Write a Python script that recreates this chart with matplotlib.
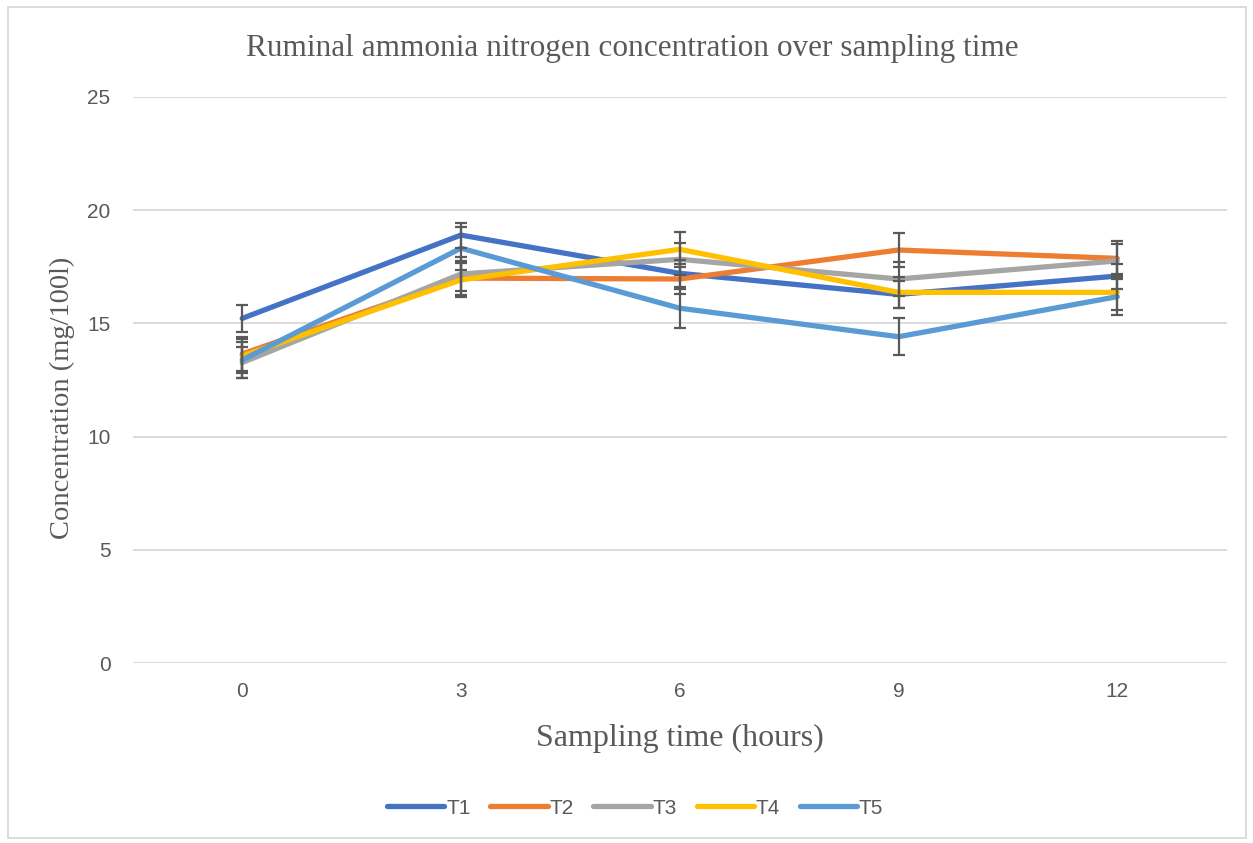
import matplotlib

matplotlib.use("Agg")
import matplotlib.pyplot as plt
from matplotlib.patches import Rectangle

# --- data ---
hours = ["0", "3", "6", "9", "12"]
series = ["T1", "T2", "T3", "T4", "T5"]
t1 = [15.22, 18.90, 17.21, 16.28, 17.09]
t2 = [13.65, 17.00, 16.96, 18.24, 17.87]
t3 = [13.27, 17.18, 17.83, 16.96, 17.76]
t4 = [13.56, 16.92, 18.27, 16.37, 16.37]
t5 = [13.38, 18.32, 15.67, 14.41, 16.18]
err1 = [0.60, 0.55, 0.60, 0.60, 0.55]
err2 = [0.75, 0.75, 0.65, 0.76, 0.76]
err3 = [0.70, 0.75, 0.70, 0.75, 0.75]
err4 = [0.75, 0.75, 0.78, 0.70, 0.80]
err5 = [0.80, 0.95, 0.86, 0.82, 0.80]

COLORS = ["#4472C4", "#ED7D31", "#A5A5A5", "#FFC000", "#5B9BD5"]
GRAY = "#595959"
SERIF = ["Liberation Serif", "DejaVu Serif"]
SANS = ["Liberation Sans", "DejaVu Sans"]

fig = plt.figure(figsize=(12.53, 8.43), dpi=100)
ax = fig.add_axes([0.106, 0.2135, 0.873, 0.6715])

x = list(range(len(hours)))
for name, vals, err, col in zip(series, [t1, t2, t3, t4, t5],
                                [err1, err2, err3, err4, err5], COLORS):
    ax.plot(x, vals, color=col, linewidth=3.8, solid_capstyle="round",
            solid_joinstyle="round", label=name, zorder=3)
    ax.errorbar(x, vals, yerr=err, fmt="none", ecolor=GRAY, elinewidth=1.6,
                capsize=4.3, capthick=1.6, zorder=4)

ax.set_xlim(-0.5, len(hours) - 0.5)
ax.set_ylim(0, 25)
ax.set_xticks(x)
ax.set_xticklabels(hours)
ax.set_yticks([0, 5, 10, 15, 20, 25])
ax.grid(axis="y", color="#D9D9D9", linewidth=1.3)
ax.set_axisbelow(True)
for s in ax.spines.values():
    s.set_visible(False)
ax.tick_params(length=0, labelsize=15, labelcolor=GRAY)
ax.tick_params(axis="x", pad=14)
ax.tick_params(axis="y", pad=16)
for lab in ax.get_xticklabels() + ax.get_yticklabels():
    lab.set_family(SANS)

ax.set_xlabel("Sampling time (hours)", family=SERIF, fontsize=23,
              color=GRAY, labelpad=16)
ax.set_ylabel("Concentration (mg/100l)", family=SERIF, fontsize=20.5,
              color=GRAY)
ax.yaxis.set_label_coords(-0.053, 0.469)
fig.text(0.505, 0.943, "Ruminal ammonia nitrogen concentration over sampling time",
         family=SERIF, fontsize=22.5, color=GRAY, ha="center", va="center")

leg = fig.legend(loc="center", bbox_to_anchor=(0.507, 0.0415), ncol=5,
                 frameon=False, prop={"family": SANS, "size": 15},
                 handlelength=2.74, handletextpad=0.1, columnspacing=0.94)
for t in leg.get_texts():
    t.set_color(GRAY)

fig.patches.append(Rectangle((0.0064, 0.006), 0.988, 0.986,
                             transform=fig.transFigure, fill=False,
                             edgecolor="#D9D9D9", linewidth=1.3))

fig.savefig("out.png", dpi=100)
